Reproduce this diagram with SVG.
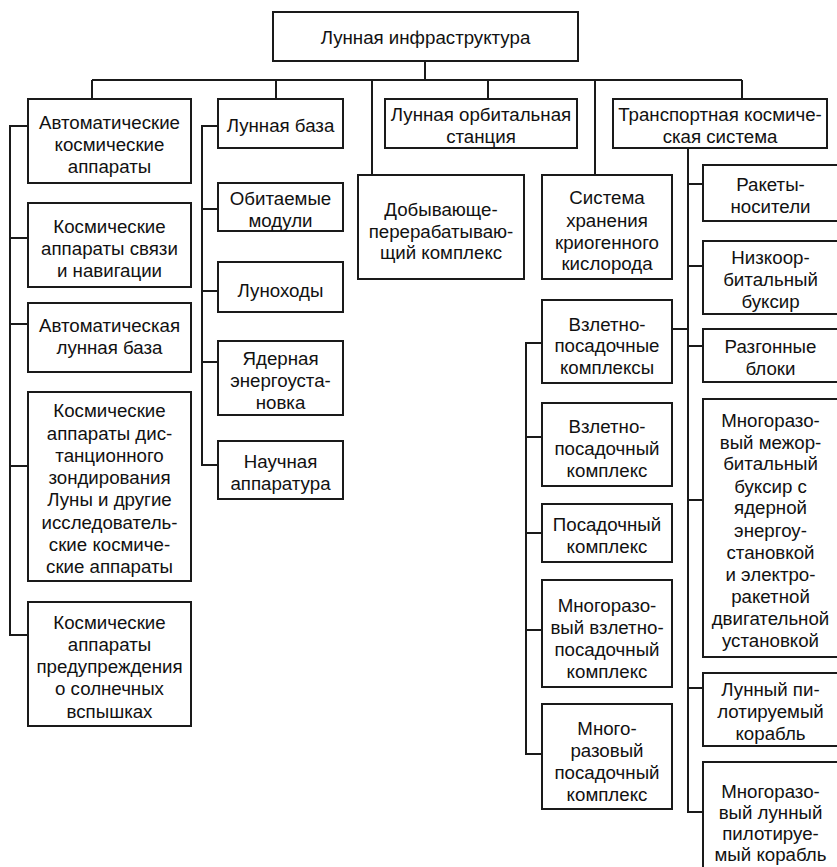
<svg xmlns="http://www.w3.org/2000/svg" width="837" height="867" viewBox="0 0 837 867">
<style>
rect{fill:#fff;stroke:#1a1a1a;stroke-width:2}
text{font-family:"Liberation Sans",Arial,sans-serif;font-size:18.7px;fill:#111;text-anchor:middle}
#connectors path{fill:none;stroke:#1a1a1a;stroke-width:2}
</style>
<rect x="0" y="0" width="837" height="867" style="stroke:none"/>
<g id="connectors">
<path d="M425,61V80M92,80H742M92,80V99M276,80V99M372,80V175M488,80V99M595,80V175M742,80V99"/>
<path d="M28,126H10V635H28M10,238H28M10,324H28M10,466H28"/>
<path d="M218,126H202V465H218M202,209H218M202,291H218M202,362H218"/>
<path d="M688,148V812H703M688,184H703M688,266H703M688,346H703M688,500H703M688,688H703M672,329H688"/>
<path d="M542,343H526V754H542M526,437H542M526,533H542M526,630H542"/>
</g>
<g id="root"><rect x="273" y="12" width="305" height="49"/><text x="425.5" y="44">Лунная инфраструктура</text></g>
<g id="a1"><rect x="28" y="99" width="163" height="84"/><text x="109.5" y="129">Автоматические</text><text x="109.5" y="151">космические</text><text x="109.5" y="173">аппараты</text></g>
<g id="a2"><rect x="28" y="203" width="163" height="84"/><text x="109.5" y="233">Космические</text><text x="109.5" y="255">аппараты связи</text><text x="109.5" y="277">и навигации</text></g>
<g id="a3"><rect x="28" y="303" width="163" height="69"/><text x="109.5" y="332">Автоматическая</text><text x="109.5" y="354">лунная база</text></g>
<g id="a4"><rect x="28" y="392" width="163" height="189"/><text x="109.5" y="417">Космические</text><text x="109.5" y="440">аппараты дис-</text><text x="109.5" y="462">танционного</text><text x="109.5" y="484">зондирования</text><text x="109.5" y="506">Луны и другие</text><text x="109.5" y="529">исследователь-</text><text x="109.5" y="551">ские космиче-</text><text x="109.5" y="573">ские аппараты</text></g>
<g id="a5"><rect x="28" y="602" width="163" height="124"/><text x="109.5" y="629">Космические</text><text x="109.5" y="651">аппараты</text><text x="109.5" y="673">предупреждения</text><text x="109.5" y="695">о солнечных</text><text x="109.5" y="718">вспышках</text></g>
<g id="b1"><rect x="218" y="99" width="125" height="49"/><text x="280.5" y="132">Лунная база</text></g>
<g id="b2"><rect x="218" y="183" width="125" height="48"/><text x="280.5" y="205">Обитаемые</text><text x="280.5" y="227">модули</text></g>
<g id="b3"><rect x="218" y="262" width="125" height="50"/><text x="280.5" y="297">Луноходы</text></g>
<g id="b4"><rect x="218" y="341" width="125" height="74"/><text x="280.5" y="365">Ядерная</text><text x="280.5" y="387">энергоуста-</text><text x="280.5" y="409">новка</text></g>
<g id="b5"><rect x="218" y="441" width="125" height="58"/><text x="280.5" y="468">Научная</text><text x="280.5" y="490">аппаратура</text></g>
<g id="e1"><rect x="358" y="175" width="166" height="104"/><text x="441" y="216">Добывающе-</text><text x="441" y="238">перерабатываю-</text><text x="441" y="259">щий комплекс</text></g>
<g id="e2"><rect x="385" y="99" width="192" height="49"/><text x="481" y="121">Лунная орбитальная</text><text x="481" y="143">станция</text></g>
<g id="f1"><rect x="613" y="99" width="214" height="49"/><text x="720" y="121">Транспортная космиче-</text><text x="720" y="143">ская система</text></g>
<g id="f2"><rect x="542" y="175" width="130" height="104"/><text x="607" y="204">Система</text><text x="607" y="227">хранения</text><text x="607" y="249">криогенного</text><text x="607" y="270">кислорода</text></g>
<g id="c1"><rect x="703" y="165" width="135" height="56"/><text x="770.5" y="191">Ракеты-</text><text x="770.5" y="213">носители</text></g>
<g id="c2"><rect x="703" y="241" width="135" height="73"/><text x="770.5" y="264">Низкоор-</text><text x="770.5" y="286">битальный</text><text x="770.5" y="308">буксир</text></g>
<g id="c3"><rect x="703" y="329" width="135" height="53"/><text x="770.5" y="353">Разгонные</text><text x="770.5" y="375">блоки</text></g>
<g id="c4"><rect x="703" y="399" width="135" height="258"/><text x="770.5" y="427">Многоразо-</text><text x="770.5" y="449">вый межор-</text><text x="770.5" y="470">битальный</text><text x="770.5" y="493">буксир с</text><text x="770.5" y="514">ядерной</text><text x="770.5" y="537">энергоу-</text><text x="770.5" y="559">становкой</text><text x="770.5" y="581">и электро-</text><text x="770.5" y="603">ракетной</text><text x="770.5" y="625">двигательной</text><text x="770.5" y="647">установкой</text></g>
<g id="c5"><rect x="703" y="673" width="135" height="73"/><text x="770.5" y="696">Лунный пи-</text><text x="770.5" y="718">лотируемый</text><text x="770.5" y="740">корабль</text></g>
<g id="c6"><rect x="703" y="762" width="135" height="110"/><text x="770.5" y="798">Многоразо-</text><text x="770.5" y="819">вый лунный</text><text x="770.5" y="840">пилотируе-</text><text x="770.5" y="861">мый корабль</text></g>
<g id="d1"><rect x="542" y="300" width="130" height="83"/><text x="607" y="331">Взлетно-</text><text x="607" y="352">посадочные</text><text x="607" y="374">комплексы</text></g>
<g id="d2"><rect x="542" y="403" width="130" height="83"/><text x="607" y="433">Взлетно-</text><text x="607" y="455">посадочный</text><text x="607" y="477">комплекс</text></g>
<g id="d3"><rect x="542" y="504" width="130" height="58"/><text x="607" y="531">Посадочный</text><text x="607" y="553">комплекс</text></g>
<g id="d4"><rect x="542" y="580" width="130" height="107"/><text x="607" y="612">Многоразо-</text><text x="607" y="634">вый взлетно-</text><text x="607" y="656">посадочный</text><text x="607" y="678">комплекс</text></g>
<g id="d5"><rect x="542" y="704" width="130" height="105"/><text x="607" y="735">Много-</text><text x="607" y="757">разовый</text><text x="607" y="779">посадочный</text><text x="607" y="801">комплекс</text></g>
</svg>
